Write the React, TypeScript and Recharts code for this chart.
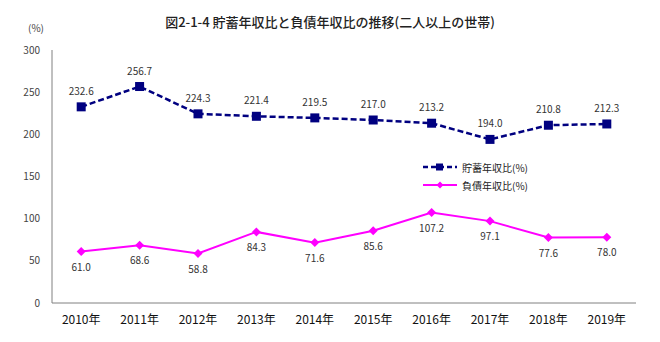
import { LineChart, Line, XAxis, YAxis, Legend, LabelList } from 'recharts'

const years = ['2010年', '2011年', '2012年', '2013年', '2014年', '2015年', '2016年', '2017年', '2018年', '2019年']
const savingsRatio = [232.6, 256.7, 224.3, 221.4, 219.5, 217.0, 213.2, 194.0, 210.8, 212.3]
const debtRatio = [61.0, 68.6, 58.8, 84.3, 71.6, 85.6, 107.2, 97.1, 77.6, 78.0]
const yTicks = [0, 50, 100, 150, 200, 250, 300]
const boundaryTicks = [1, 2, 3, 4, 5, 6, 7, 8, 9]

const data = years.map((year, i) => ({ year, savings: savingsRatio[i], debt: debtRatio[i] }))

const FONT = '"Noto Sans CJK JP", "Noto Sans", sans-serif'
const NAVY = '#000080'
const MAGENTA = '#ff00ff'
const AXIS = '#808080'
const HALF_BAND = 29.2

const SquareDot = (props: any) => {
  const { cx, cy } = props
  if (cx == null || cy == null) return null
  return <rect x={cx - 4.5} y={cy - 4.5} width={9} height={9} fill={NAVY} />
}

const DiamondDot = (props: any) => {
  const { cx, cy } = props
  if (cx == null || cy == null) return null
  return <polygon points={`${cx},${cy - 4.5} ${cx + 4.5},${cy} ${cx},${cy + 4.5} ${cx - 4.5},${cy}`} fill={MAGENTA} />
}

const fmt = (v: any) => Number(v).toFixed(1)

const LegendBox = () => (
  <div style={{ fontFamily: FONT, fontSize: 10, color: '#222' }}>
    <div style={{ display: 'flex', alignItems: 'center', height: 18 }}>
      <svg width={36} height={10} style={{ marginRight: 4 }}>
        <line x1={1} y1={5} x2={35} y2={5} stroke={NAVY} strokeWidth={2.5} strokeDasharray="5 3" />
        <rect x={14} y={1.5} width={7} height={7} fill={NAVY} />
      </svg>
      貯蓄年収比(%)
    </div>
    <div style={{ display: 'flex', alignItems: 'center', height: 18 }}>
      <svg width={36} height={10} style={{ marginRight: 4 }}>
        <line x1={1} y1={5} x2={35} y2={5} stroke={MAGENTA} strokeWidth={2} />
        <polygon points="18,1.5 21.5,5 18,8.5 14.5,5" fill={MAGENTA} />
      </svg>
      負債年収比(%)
    </div>
  </div>
)

export default function App() {
  return (
    <div style={{ position: 'absolute', left: 0, top: 0, width: 660, height: 342, background: '#fff', fontFamily: FONT }}>
      <div style={{ position: 'absolute', left: 0, top: 12, width: 660, textAlign: 'center', fontSize: 13, fontWeight: 500, color: '#222' }}>
        図2-1-4 貯蓄年収比と負債年収比の推移(二人以上の世帯)
      </div>
      <div style={{ position: 'absolute', left: 28, top: 20, fontSize: 10, color: '#444' }}>(%)</div>
      <LineChart width={660} height={342} data={data} margin={{ top: 50, right: 24, left: 0, bottom: 9 }}>
        <XAxis xAxisId="b" type="number" domain={[0, 10]} ticks={boundaryTicks} tick={() => <g />} height={0} mirror tickSize={5} stroke={AXIS} allowDataOverflow />
        <XAxis dataKey="year" tickLine={false} stroke={AXIS} height={30} padding={{ left: HALF_BAND, right: HALF_BAND }} tick={{ fill: '#111', fontSize: 12, dy: 4 }} interval={0} />
        <XAxis xAxisId="top" orientation="top" dataKey="year" tick={false} tickLine={false} height={0} stroke={AXIS} />
        <YAxis domain={[0, 300]} ticks={yTicks} width={52} tickLine={false} stroke={AXIS} tick={{ fill: '#444', fontSize: 10, dx: -4 }} />
        <YAxis yAxisId="right" orientation="right" tick={false} tickLine={false} width={0} stroke={AXIS} />
        <Legend layout="vertical" align="center" verticalAlign="middle" content={<LegendBox />} wrapperStyle={{ left: 422, top: 158, width: 140 }} />
        <Line dataKey="savings" stroke={NAVY} strokeWidth={2.5} strokeDasharray="6 3" dot={<SquareDot />} activeDot={false} isAnimationActive={false}>
          <LabelList dataKey="savings" position="top" offset={12} formatter={fmt} style={{ fill: '#333', fontSize: 10, fontFamily: FONT }} />
        </Line>
        <Line dataKey="debt" stroke={MAGENTA} strokeWidth={2} dot={<DiamondDot />} activeDot={false} isAnimationActive={false}>
          <LabelList dataKey="debt" position="bottom" offset={12} formatter={fmt} style={{ fill: '#333', fontSize: 10, fontFamily: FONT }} />
        </Line>
      </LineChart>
    </div>
  )
}
